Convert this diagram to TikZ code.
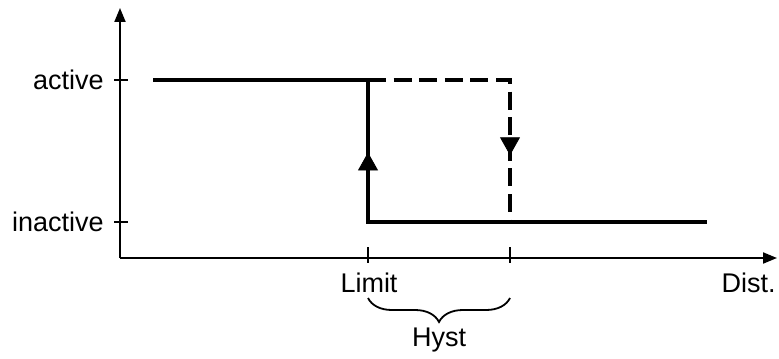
\documentclass[tikz,border=0pt]{standalone}
\usepackage{fontspec}
\setmainfont{Liberation Sans}
\usetikzlibrary{arrows.meta,decorations.pathreplacing,decorations.markings}

\begin{document}
\begin{tikzpicture}[
  x=0.5pt, y=-0.5pt,
  every node/.style={font=\fontsize{13.5}{16}\selectfont, inner sep=0pt},
  axis/.style={line width=1pt, -{Triangle[length=7pt,width=5.5pt]}},
  tickmark/.style={line width=0.8pt},
  curve/.style={line width=1.7pt, line join=miter},
  dcurve/.style={line width=1.7pt, line join=miter, dash pattern=on 9pt off 3.8pt},
  midarr/.style={postaction={decorate}, decoration={markings, mark=at position #1 with {\arrow{Triangle[length=9pt,width=10pt]}}}},
  hbrace/.style={line width=0.9pt, decorate, decoration={brace, mirror, amplitude=12pt}}
]
\useasboundingbox (0,0) rectangle (779,358);

% Axes
\coordinate (O) at (120,258);
\coordinate (ytop) at (120,8);
\coordinate (xend) at (777,258);
\draw[axis] (O) -- (ytop);
\draw[axis] (O) -- (xend);

% State levels
\coordinate (act) at (120,80);
\coordinate (inact) at (120,222);
\draw[tickmark] ([xshift=-3pt]act) -- ([xshift=4pt]act);
\draw[tickmark] ([xshift=-3pt]inact) -- ([xshift=4pt]inact);
\node[anchor=east] (lblAct) at (104,80) {active};
\node[anchor=east] (lblInact) at (104,222) {inactive};

% Switching points on distance axis
\coordinate (lim) at (368,258);
\coordinate (hys) at (510,258);
\draw[tickmark] ([yshift=5.5pt]lim) -- ([yshift=-2.5pt]lim);
\draw[tickmark] ([yshift=5.5pt]hys) -- ([yshift=-2.5pt]hys);
\node (lblLim) at (369,283) {Limit};
\node[anchor=east] (lblDist) at (776,283) {Dist.};

% Hysteresis curve
\coordinate (start) at (153,80);
\coordinate (limTop) at (368,80);
\coordinate (limBot) at (368,222);
\coordinate (hysTop) at (510,80);
\coordinate (hysBot) at (510,222);
\coordinate (stop) at (707,222);
\draw[curve] (start) -- (limTop) -- (limBot) -- (stop);
\draw[dcurve] (limTop) -- (hysTop) -- (hysBot);
\path[midarr=0.49] (limBot) -- (limTop);
\path[midarr=0.53] (hysTop) -- (hysBot);

% Hysteresis brace
\coordinate (brL) at (368,298);
\coordinate (brR) at (510,298);
\draw[hbrace] (brL) -- (brR);
\node (lblHyst) at (439,340) {Hyst};
\end{tikzpicture}
\end{document}
